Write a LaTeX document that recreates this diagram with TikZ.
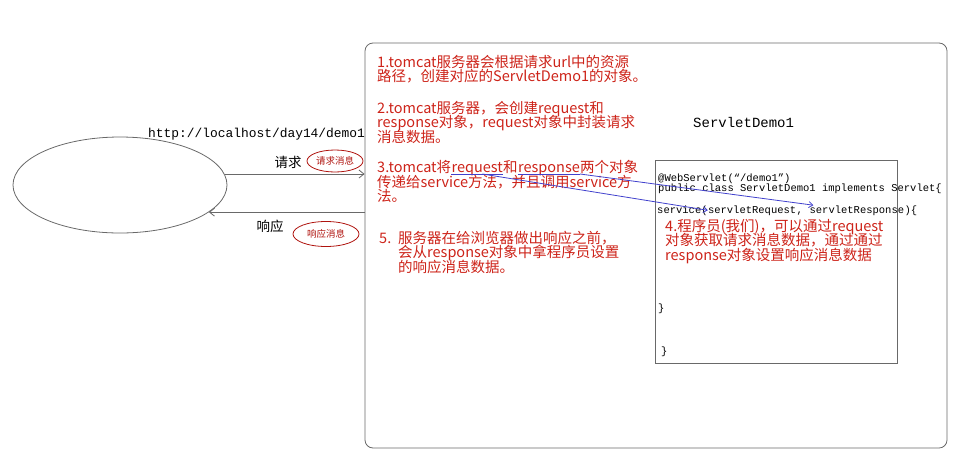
\documentclass[tikz,border=0pt]{standalone}
\usepackage{fontspec}
\usepackage{tikz}
\usetikzlibrary{shapes.geometric,arrows.meta,positioning,calc}
\newfontfamily\zhfont{Noto Sans CJK SC}
\newfontfamily\codefont{Liberation Mono}
\setlength{\lineskiplimit}{-20pt}
\definecolor{notered}{RGB}{205,35,25}
\definecolor{tagred}{RGB}{175,20,15}
\definecolor{framegray}{RGB}{105,105,105}
\definecolor{linkblue}{RGB}{65,65,205}
\tikzset{
  redtxt/.style={inner sep=0pt, anchor=base west, text=notered, align=left,
    font=\zhfont\fontsize{14.5}{14.5}\selectfont},
  codetxt/.style={inner sep=0pt, anchor=base west, font=\codefont\fontsize{10.5}{12}\selectfont},
  msgtag/.style={ellipse, draw=tagred, line width=0.8pt, inner sep=0pt, text=tagred,
    font=\zhfont\fontsize{9.5}{10}\selectfont},
  flow/.style={draw=framegray, line width=0.8pt, -{Straight Barb[length=5pt,width=8pt]}},
  link/.style={draw=linkblue, line width=0.8pt},
}
\begin{document}
\begin{tikzpicture}[x=1pt,y=-1pt]
    \useasboundingbox (0,0) rectangle (957,453);
    % browser and server
    \node[ellipse, draw=framegray, line width=0.8pt, minimum width=214pt, minimum height=96pt] (browser) at (120,185) {};
    \node[draw=framegray, line width=0.8pt, rounded corners=8pt, minimum width=582pt, minimum height=405pt, inner sep=0pt] (server) at (656,245.5) {};
    \node[draw=framegray, line width=1pt, minimum width=242pt, minimum height=203pt, inner sep=0pt] (servlet) at (776,261.5) {};

    % request / response
    \draw[flow] (browser.6) -- (browser.6 -| server.west);
    \draw[flow] (browser.-17 -| server.west) -- (browser.-17);
    \node[font=\codefont\fontsize{12.9}{14}\selectfont, anchor=base west, inner sep=0pt] (url) at (148,137) {http://localhost/day14/demo1};
    \node[font=\zhfont\fontsize{13.5}{14}\selectfont, inner sep=0pt] (reqlbl) at (288,162) {请求};
    \node[msgtag, minimum width=56pt, minimum height=22pt] (reqmsg) at (335,161) {请求消息};
    \node[font=\zhfont\fontsize{13.5}{14}\selectfont, inner sep=0pt] (resplbl) at (270,226) {响应};
    \node[msgtag, minimum width=66pt, minimum height=25pt] (respmsg) at (326,234) {响应消息};

    % steps (base = baseline of the last line)
    \node[redtxt] (step1) at (377,81.5) {1.tomcat服务器会根据请求url中的资源\\路径，创建对应的ServletDemo1的对象。};
    \node[redtxt] (step2) at (377,142) {2.tomcat服务器，会创建request和\\response对象，request对象中封装请求\\消息数据。};
    \node[redtxt] (step3a) at (377,172) {3.tomcat将};
    \node[redtxt] (req) at (step3a.base east) {request};
    \node[redtxt] (step3and) at (req.base east) {和};
    \node[redtxt] (resp) at (step3and.base east) {response};
    \node[redtxt] (step3c) at (resp.base east) {两个对象};
    \node[redtxt] (step3b) at (377,201.5) {传递给service方法，并且调用service方\\法。};
    \node[redtxt] (step5n) at (379,243) {5.};
    \node[redtxt] (step5) at (398,272) {服务器在给浏览器做出响应之前，\\会从response对象中拿程序员设置\\的响应消息数据。};
    \node[redtxt] (step4) at (665,260) {4.程序员(我们)，可以通过request\\对象获取请求消息数据，通过通过\\response对象设置响应消息数据};

    % servlet code
    \node[font=\codefont\fontsize{14}{16}\selectfont, anchor=base west, inner sep=0pt] (title) at (693,127) {ServletDemo1};
    \node[codetxt] (anno) at (658,181) {@WebServlet(“/demo1”)};
    \node[codetxt] (cls) at (658,191) {public class ServletDemo1 implements Servlet\{};
    \node[codetxt] (svc) at (657,213) {service(};
    \node[codetxt] (sreq) at (svc.base east) {servletRequest};
    \node[codetxt] (sep) at (sreq.base east) {,\kern6.3pt};
    \node[codetxt] (sresp) at (sep.base east) {servletResponse};
    \node[codetxt] (svcend) at (sresp.base east) {)\{};
    \node[codetxt] (close1) at (658,311) {\}};
    \node[codetxt] (close2) at (661,354) {\}};

    % request/response passed to service
    \draw[link] ([yshift=-2pt]req.base west) -- ([yshift=-2pt]req.base east);
    \draw[link] ([yshift=-2pt]resp.base west) -- ([yshift=-2pt]resp.base east);
    \draw[link, -{Straight Barb[length=4pt,width=6pt]}] ([yshift=-2pt]$(req.base west)!0.6!(req.base east)$) -- (sreq.west);
    \draw[link, -{Straight Barb[length=4pt,width=6pt]}] ([yshift=-2pt]resp.base east) -- ([xshift=4pt]sresp.north west);
\end{tikzpicture}
\end{document}
